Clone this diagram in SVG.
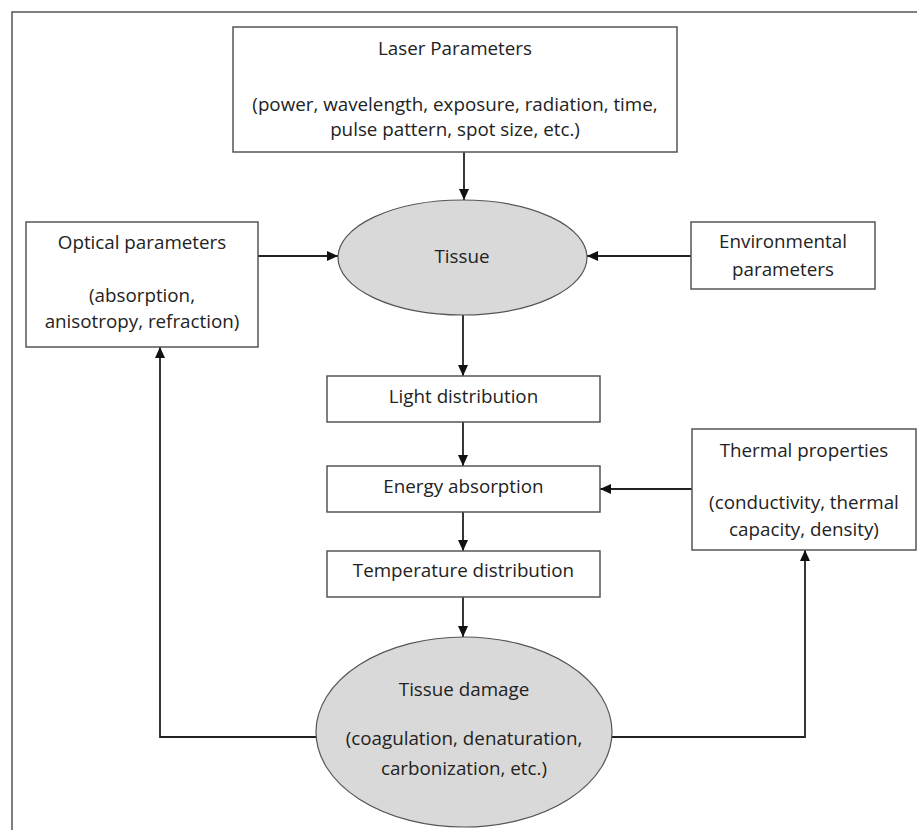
<svg xmlns="http://www.w3.org/2000/svg" width="917" height="830" viewBox="0 0 917 830">
<defs>
<marker id="ah" markerWidth="12" markerHeight="12" refX="11" refY="5.5" orient="auto" markerUnits="userSpaceOnUse">
<path d="M0,0.5 L11,5.5 L0,10.5 Z" fill="#111"/>
</marker>
<style>
.box{fill:#fff;stroke:#555;stroke-width:1.5}
.ell{fill:#d9d9d9;stroke:#555;stroke-width:1.2}
.t{font-family:"Open Sans","Liberation Sans",sans-serif;font-size:18.8px;fill:#222;text-anchor:middle}
.c{fill:none;stroke:#222;stroke-width:1.8}
</style>
</defs>
<rect x="0" y="0" width="917" height="830" fill="#fff"/>
<rect x="12" y="12" width="920" height="830" fill="none" stroke="#555" stroke-width="1.5"/>
<g id="connectors">
<line class="c" x1="464" y1="152" x2="464" y2="200" marker-end="url(#ah)"/>
<line class="c" x1="258" y1="256" x2="338" y2="256" marker-end="url(#ah)"/>
<line class="c" x1="691" y1="256" x2="587" y2="256" marker-end="url(#ah)"/>
<line class="c" x1="463" y1="315" x2="463" y2="376" marker-end="url(#ah)"/>
<line class="c" x1="463" y1="422" x2="463" y2="466" marker-end="url(#ah)"/>
<line class="c" x1="463" y1="512" x2="463" y2="551" marker-end="url(#ah)"/>
<line class="c" x1="463" y1="597" x2="463" y2="637" marker-end="url(#ah)"/>
<line class="c" x1="692" y1="489" x2="600" y2="489" marker-end="url(#ah)"/>
<polyline class="c" points="316,737 160,737 160,347" marker-end="url(#ah)"/>
<polyline class="c" points="612,737 805,737 805,550" marker-end="url(#ah)"/>
</g>
<g id="laser">
<rect class="box" x="233" y="27" width="444" height="125"/>
<text class="t" x="455" y="55">Laser Parameters</text>
<text class="t" x="455" y="111">(power, wavelength, exposure, radiation, time,</text>
<text class="t" x="455" y="136">pulse pattern, spot size, etc.)</text>
</g>
<g id="tissue">
<ellipse class="ell" cx="462.5" cy="257.5" rx="124.5" ry="57.5"/>
<text class="t" x="462" y="263">Tissue</text>
</g>
<g id="optical">
<rect class="box" x="26" y="222" width="232" height="125"/>
<text class="t" x="142" y="249">Optical parameters</text>
<text class="t" x="142" y="302">(absorption,</text>
<text class="t" x="142" y="328">anisotropy, refraction)</text>
</g>
<g id="environmental">
<rect class="box" x="691" y="222" width="184" height="67"/>
<text class="t" x="783" y="248">Environmental</text>
<text class="t" x="783" y="276">parameters</text>
</g>
<g id="light">
<rect class="box" x="327" y="376" width="273" height="46"/>
<text class="t" x="463.5" y="403">Light distribution</text>
</g>
<g id="energy">
<rect class="box" x="327" y="466" width="273" height="46"/>
<text class="t" x="463.5" y="493">Energy absorption</text>
</g>
<g id="temperature">
<rect class="box" x="327" y="551" width="273" height="46"/>
<text class="t" x="463.5" y="577">Temperature distribution</text>
</g>
<g id="thermal">
<rect class="box" x="692" y="429" width="224" height="121"/>
<text class="t" x="804" y="457">Thermal properties</text>
<text class="t" x="804" y="509">(conductivity, thermal</text>
<text class="t" x="804" y="536">capacity, density)</text>
</g>
<g id="damage">
<ellipse class="ell" cx="464" cy="732" rx="148" ry="95"/>
<text class="t" x="464" y="696">Tissue damage</text>
<text class="t" x="464" y="745">(coagulation, denaturation,</text>
<text class="t" x="464" y="775">carbonization, etc.)</text>
</g>
</svg>
